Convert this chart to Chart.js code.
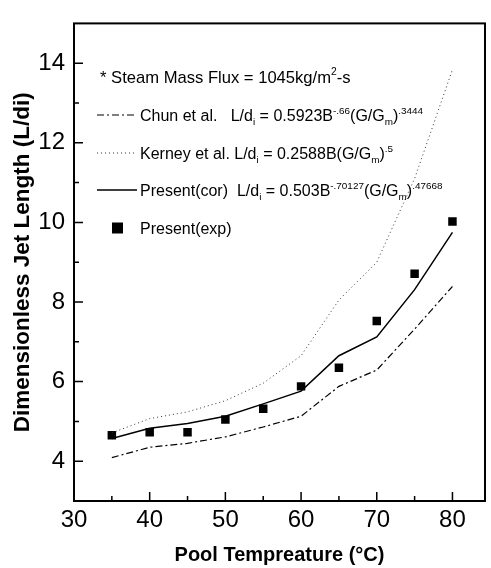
<!DOCTYPE html>
<html><head><meta charset="utf-8">
<script src="https://cdn.jsdelivr.net/npm/chart.js@4"></script>
<style>html,body{margin:0;padding:0;background:#fff}#wrap{width:491px;height:568px}</style>
</head><body><div id="wrap"><canvas id="c" width="491" height="568"></canvas></div>
<script>
const temperatures = [35, 40, 45, 50, 55, 60, 65, 70, 75, 80];
const chunValues = [4.09, 4.35, 4.45, 4.61, 4.86, 5.13, 5.88, 6.29, 7.32, 8.39];
const kerneyValues = [4.71, 5.07, 5.24, 5.52, 5.96, 6.65, 8.05, 9.0, 11.1, 13.84];
const presentCorValues = [4.57, 4.83, 4.95, 5.13, 5.44, 5.76, 6.65, 7.12, 8.31, 9.75];
const presentExpValues = [4.65, 4.73, 4.73, 5.05, 5.32, 5.88, 6.35, 7.52, 8.71, 10.02];
const xTickLabels = [30, 40, 50, 60, 70, 80];
const xMinorTicks = [35, 45, 55, 65, 75];
const yTickLabels = [4, 6, 8, 10, 12, 14];
const yMinorTicks = [3, 5, 7, 9, 11, 13];

const FONT = '"Liberation Sans", Arial, sans-serif';
const pts = vals => temperatures.map((t, i) => ({x: t, y: vals[i]}));

function rich(ctx, x, y, segs, size) {
  for (const [t, kind] of segs) {
    let fs = size, dy = 0;
    if (kind === 'sup') { fs = size * 0.62; dy = -size * 0.45; }
    else if (kind === 'sub') { fs = size * 0.62; dy = size * 0.28; }
    ctx.font = fs + 'px ' + FONT;
    ctx.fillText(t, x, y + dy);
    x += ctx.measureText(t).width;
  }
}

const decorPlugin = {
  id: 'decor',
  afterDatasetsDraw(chart) {
    const ctx = chart.ctx, a = chart.chartArea;
    const xs = chart.scales.x, ys = chart.scales.y;
    ctx.save();
    ctx.strokeStyle = '#000';
    ctx.lineWidth = 2;
    ctx.strokeRect(a.left, a.top, a.right - a.left, a.bottom - a.top);
    ctx.lineWidth = 1.5;
    ctx.beginPath();
    xTickLabels.forEach(v => { const p = xs.getPixelForValue(v); ctx.moveTo(p, a.bottom); ctx.lineTo(p, a.bottom - 9); });
    xMinorTicks.forEach(v => { const p = xs.getPixelForValue(v); ctx.moveTo(p, a.bottom); ctx.lineTo(p, a.bottom - 5); });
    yTickLabels.forEach(v => { const p = ys.getPixelForValue(v); ctx.moveTo(a.left, p); ctx.lineTo(a.left + 9, p); });
    yMinorTicks.forEach(v => { const p = ys.getPixelForValue(v); ctx.moveTo(a.left, p); ctx.lineTo(a.left + 5, p); });
    ctx.stroke();

    ctx.fillStyle = '#000';
    ctx.textBaseline = 'alphabetic';
    const size = 16;
    const rows = [77, 115, 153, 190, 228];
    const base = r => r + size * 0.36;
    rich(ctx, 100, base(rows[0]), [['* Steam Mass Flux = 1045kg/m', 'n'], ['2', 'sup'], ['-s', 'n']], 16.6);
    const ds = chart.data.datasets;
    const sample = (d, y) => {
      ctx.save();
      ctx.strokeStyle = d.borderColor; ctx.lineWidth = d.borderWidth;
      ctx.setLineDash(d.borderDash || []);
      ctx.beginPath(); ctx.moveTo(97, y); ctx.lineTo(137, y); ctx.stroke();
      ctx.restore();
    };
    sample(ds[0], rows[1]);
    rich(ctx, 140, base(rows[1]), [['Chun et al.   L/d', 'n'], ['i', 'sub'], [' = 0.5923B', 'n'], ['-.66', 'sup'], ['(G/G', 'n'], ['m', 'sub'], [')', 'n'], ['.3444', 'sup']], size);
    sample(ds[1], rows[2]);
    rich(ctx, 140, base(rows[2]), [['Kerney et al. L/d', 'n'], ['i', 'sub'], [' = 0.2588B(G/G', 'n'], ['m', 'sub'], [')', 'n'], ['.5', 'sup']], size);
    sample(ds[2], rows[3]);
    rich(ctx, 140, base(rows[3]), [['Present(cor)  L/d', 'n'], ['i', 'sub'], [' = 0.503B', 'n'], ['-.70127', 'sup'], ['(G/G', 'n'], ['m', 'sub'], [')', 'n'], ['.47668', 'sup']], size);
    ctx.fillRect(112, rows[4] - 5.5, 11, 11);
    rich(ctx, 140, base(rows[4]), [['Present(exp)', 'n']], size);
    ctx.restore();
  }
};

new Chart(document.getElementById('c'), {
  type: 'scatter',
  data: {
    datasets: [
      {label: 'Chun et al.', data: pts(chunValues), showLine: true, borderColor: '#000', borderWidth: 1.2, borderDash: [7, 3, 2, 3], pointRadius: 0, fill: false},
      {label: 'Kerney et al.', data: pts(kerneyValues), showLine: true, borderColor: '#333', borderWidth: 1, borderDash: [1, 3], pointRadius: 0, fill: false},
      {label: 'Present(cor)', data: pts(presentCorValues), showLine: true, borderColor: '#000', borderWidth: 1.5, pointRadius: 0, fill: false},
      {label: 'Present(exp)', data: pts(presentExpValues), showLine: false, pointStyle: 'rect', pointRadius: 6, backgroundColor: '#000', borderColor: '#000', borderWidth: 0}
    ]
  },
  options: {
    responsive: false, animation: false, devicePixelRatio: 1,
    layout: {padding: {left: 0, top: 8, right: 3, bottom: 0}},
    plugins: {legend: {display: false}, tooltip: {enabled: false}},
    scales: {
      x: {
        type: 'linear', min: 30, max: 84.3,
        afterBuildTicks: s => { s.ticks = xTickLabels.map(v => ({value: v})); },
        afterFit: s => { s.height = 67; },
        grid: {display: false, drawTicks: false}, border: {display: false},
        ticks: {color: '#000', padding: 5, font: {family: FONT, size: 24}, maxRotation: 0, autoSkip: false},
        title: {display: true, text: 'Pool Tempreature (°C)', color: '#000', font: {family: FONT, size: 20, weight: 'bold'}, padding: {top: 0, bottom: 1}}
      },
      y: {
        type: 'linear', min: 3, max: 15,
        afterBuildTicks: s => { s.ticks = yTickLabels.map(v => ({value: v})); },
        afterFit: s => { s.width = 74; },
        grid: {display: false, drawTicks: false}, border: {display: false},
        ticks: {color: '#000', padding: 9, font: {family: FONT, size: 24}, autoSkip: false},
        title: {display: true, text: 'Dimensionless Jet Length (L/di)', color: '#000', font: {family: FONT, size: 22.5, weight: 'bold'}, padding: {top: 9, bottom: 0}}
      }
    }
  },
  plugins: [decorPlugin]
});
</script></body></html>
